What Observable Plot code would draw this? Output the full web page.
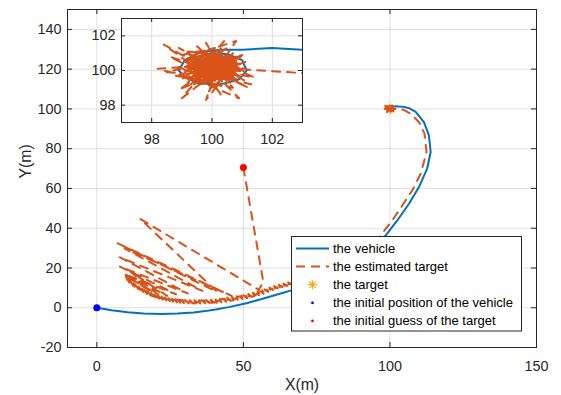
<!DOCTYPE html>
<html><head><meta charset="utf-8">
<script src="https://cdn.jsdelivr.net/npm/d3@7"></script>
<script src="https://cdn.jsdelivr.net/npm/@observablehq/plot@0.6"></script>
<style>
body{margin:0;background:#fff;}
#wrap{position:relative;width:561px;height:395px;font-family:"Liberation Sans",Arial,Helvetica,sans-serif;}
#wrap svg{position:absolute;overflow:visible;background:transparent;}
</style></head><body><div id="wrap"></div>
<script>
const xTicks=[0,50,100,150];
const yTicks=[-20,0,20,40,60,80,100,120,140];
const insetTicks=[98,100,102];
const legendLabels=["the vehicle","the estimated target","the target","the initial position of the vehicle","the initial guess of the target"];

const vehiclePath=[[0,0],[5,-1.3],[10.5,-2.3],[16,-2.9],[21.8,-3.1],[27.5,-2.9],[33,-2.4],[37,-1.7],[40.5,-0.9],[45,0.3],[51.4,2.4],[56,4.3],[62.7,7.2],[66.1,8.6],[72,12],[78,16],[84,21],[89,26],[94,31.5],[98.5,36.3],[102.5,43.9],[106.5,52.3],[109.9,60.7],[112.7,70],[113.9,78.3],[113.3,86.7],[111.6,93.4],[108.8,98.5],[106.5,100.4],[104.5,101.1],[103,101.2],[102,101.3],[101,101.2],[100.3,101.2],[99.6,101.05],[99.1,100.6],[98.9,100],[99.1,99.6],[99.5,99.3],[100,99.2],[100.4,99.25],[100.9,99.5],[101.15,100],[101,100.6],[100.5,100.95],[100,101],[99.5,100.8],[99.3,100.2]];

const estimateFan=[[50,70.5],[56.8,13],[55.3,9],[14.8,44.7],[41,8],[7.1,32.4],[46,6],[9.5,29.8],[36,8.5],[7.8,25.4],[31,7.2],[7.9,20.7],[27,6.8],[9.3,17],[24,6],[11.4,18.2],[21,6.5],[10.5,15.5],[18.5,8.2]];

const estimateBand=[[9.5,17.2],[10.5,13.8],[10.1,15.9],[11.1,12.6],[10.7,14.7],[11.7,11.9],[11.3,13.9],[12.3,11.2],[11.9,13.1],[12.9,10.6],[12.5,12.4],[13.5,10.0],[13.1,11.8],[14.1,9.4],[13.7,11.2],[14.7,8.9],[14.3,10.6],[15.3,8.4],[14.9,10.1],[15.9,7.9],[15.5,9.6],[16.5,7.4],[16.1,9.1],[17.1,7.0],[16.7,8.6],[17.7,6.6],[17.3,8.2],[18.3,6.2],[17.9,7.8],[18.9,5.8],[18.5,7.4],[19.5,5.5],[19.1,7.0],[20.1,5.2],[19.7,6.7],[20.7,4.9],[20.3,6.4],[21.3,4.6],[20.9,6.1],[21.9,4.3],[21.5,5.8],[22.5,4.1],[22.1,5.6],[23.1,3.9],[22.7,5.4],[23.7,3.7],[23.3,5.2],[24.3,3.5],[23.9,5.0],[24.9,3.3],[24.5,4.8],[25.5,3.1],[25.1,4.6],[26.1,3.0],[25.7,4.5],[26.7,2.9],[26.3,4.4],[27.3,2.7],[26.9,4.3],[27.9,2.6],[27.5,4.2],[28.5,2.5],[28.1,4.1],[29.1,2.4],[28.7,4.0],[29.7,2.3],[29.3,3.9],[30.5,2.3],[30.1,3.9],[31.3,2.2],[30.9,3.8],[32.1,2.2],[31.7,3.8],[32.9,2.1],[32.5,3.8],[33.7,2.1],[33.3,3.8],[34.5,2.1],[34.1,3.8],[35.3,2.1],[34.9,3.8],[36.1,2.2],[35.7,3.9],[36.9,2.2],[36.5,3.9],[37.7,2.2],[37.3,3.9],[38.5,2.3],[38.1,4.0],[39.3,2.3],[38.9,4.0],[40.1,2.4],[39.7,4.1],[40.9,2.5],[40.5,4.2],[41.7,2.6],[41.3,4.3],[42.5,2.7],[42.1,4.5],[43.3,2.9],[42.9,4.6],[44.1,3.0],[43.7,4.8],[44.9,3.2],[44.5,5.0],[45.7,3.4],[45.3,5.2],[46.5,3.6],[46.1,5.4],[47.3,3.8],[46.9,5.6],[48.1,4.0],[47.7,5.8],[48.9,4.2],[48.5,5.9],[49.7,4.4],[49.3,6.1],[50.5,4.6],[50.1,6.3],[51.3,4.8],[50.9,6.6],[52.1,5.1],[51.7,6.9],[52.9,5.4],[52.5,7.2],[53.7,5.7],[53.3,7.5],[54.5,6.0],[54.1,7.8],[55.3,6.3],[54.9,8.1],[56.1,6.6],[55.7,8.4],[56.9,7.0],[56.5,8.8],[57.7,7.4],[57.3,9.2],[58.5,7.9],[58.1,9.7],[59.3,8.4],[58.9,10.1],[60.1,8.9],[59.7,10.5],[60.9,9.3],[60.5,10.9],[61.7,9.7],[61.3,11.2],[62.5,10.0],[62.1,11.5],[63.3,10.3],[62.9,11.9],[64.1,10.7],[63.7,12.2],[64.9,11.0],[64.5,12.5],[65.7,11.3],[65.3,12.8],[66.5,11.6],[66.1,13.1],[67.3,12.0],[70,13],[75,15.5],[80,19],[85,23],[90,28],[93.5,31.8],[96.8,36.3],[100.8,43.9],[104.2,51.4],[107.6,59],[110.5,67.4],[112.5,78.3],[111.8,87.6],[109.9,93.4],[107,97.7],[104.5,99.6],[103,99.85],[101.2,100.05]];

const estimateClusterOuter=[[100.6,100.3],[99.4,99.8],[100.9,100.7],[98.9,100.2],[100.3,99.1],[99.7,101.2],[100.8,99.6],[99.2,100.6],[100.5,101.3],[99.0,99.5],[100.2,100.9],[101.1,99.9],[99.5,100.4],[98.4,101.5],[99.9,99.6],[100.7,101.0],[99.3,99.2],[100.0,100.5],[101.3,99.2],[99.6,99.9],[98.6,100.8],[100.4,99.7],[99.8,101.6],[100.6,99.3],[99.1,100.0],[100.9,100.4],[98.2,100.1],[99.7,99.4],[100.3,101.1],[99.0,98.4],[100.1,99.9],[100.8,101.7],[99.4,100.9],[100.5,99.9],[99.2,99.6],[101.0,100.9],[99.8,98.3],[100.2,100.3],[99.5,101.4],[100.7,99.0],[98.8,99.7],[100.0,99.3],[99.9,100.8],[101.4,99.6],[99.3,100.3],[100.4,100.6],[98.9,98.9],[100.6,100.1],[99.6,100.7],[100.9,98.4],[99.4,99.5],[100.1,101.3],[99.0,100.9],[100.8,99.8],[99.7,100.1],[100.3,98.6],[99.2,101.1],[100.5,100.8],[98.5,99.9],[100.0,99.7],[101.1,100.5],[99.6,99.1],[100.2,100.2],[99.1,100.4],[100.7,100.6],[99.8,99.5],[100.4,101.7],[99.5,99.8],[100.9,99.4],[98.9,101.3],[100.1,100.0],[99.3,99.9],[100.6,100.9],[99.9,98.8],[100.3,99.5],[99.4,100.6],[101.2,99.0],[99.8,100.4],[100.0,101.0],[99.2,99.3],[100.7,100.3],[99.6,100.2],[100.2,99.6],[99.9,100.1]];

const estimateClusterCore=[[99.5,100.2],[100.6,99.8],[99.2,100.7],[100.8,100.3],[99.7,99.4],[100.3,100.8],[99.1,99.9],[100.7,99.5],[99.9,100.7],[100.4,99.3],[99.3,100.4],[100.9,100.1],[99.6,99.6],[100.2,100.6],[99.4,99.2],[100.5,100.5],[99.8,100.9],[100.1,99.4],[99.2,100.1],[100.8,100.8],[99.7,100.5],[100.4,99.9],[99.5,99.4],[100.6,100.7],[99.9,99.5],[100.3,100.3],[99.3,100.8],[100.7,99.9],[99.6,100.4],[100.0,99.2],[99.4,100.0],[100.9,100.6],[99.8,99.7],[100.2,101.0],[99.1,100.5],[100.5,99.6],[99.7,100.8],[100.3,99.8],[99.5,99.9],[100.8,100.2],[99.9,100.3],[100.1,100.7],[99.3,99.6],[100.6,100.4],[99.6,101.0],[100.4,99.5],[99.2,100.3],[100.7,100.9],[99.8,99.9],[100.0,100.6],[99.4,100.6],[100.5,100.0],[99.7,99.3],[100.2,100.5],[99.5,100.7],[100.9,99.7],[99.9,100.0],[100.3,100.9],[99.1,100.2],[100.6,99.6],[99.6,100.3],[100.1,99.7],[99.4,99.8],[100.8,100.5],[99.8,100.6],[100.4,100.2],[99.3,100.1],[100.7,100.1],[99.7,99.8],[100.0,100.4],[99.5,100.5],[100.5,99.4],[99.9,100.9],[100.2,99.9],[99.2,99.5],[100.6,100.6],[99.8,100.2],[100.3,99.6],[99.4,100.4],[100.9,100.4],[99.6,99.7],[100.1,100.8],[99.5,100.1],[100.7,99.7],[99.9,100.5],[100.4,100.4],[99.3,99.9],[100.5,100.9],[99.7,100.0],[100.2,99.5],[99.6,100.6],[100.8,99.9],[99.8,100.3],[100.0,100.1]];

const targetPoint=[[100,100]];
const vehicleStart=[[0,0]];
const initialGuess=[[50,70.5]];

const estimatePath=estimateFan.concat(estimateBand,estimateClusterOuter,estimateClusterCore);

const BLUE="#0072BD", ORANGE="#D95319", YELLOW="#EDB120", AX="#262626", GRID="#dfdfdf";
const FONT='"Liberation Sans",Arial,Helvetica,sans-serif';
const asterisk={draw(ctx,size){const r=Math.sqrt(size/Math.PI);const d=r*Math.SQRT1_2;
 ctx.moveTo(-r,0);ctx.lineTo(r,0);ctx.moveTo(0,-r);ctx.lineTo(0,r);
 ctx.moveTo(-d,-d);ctx.lineTo(d,d);ctx.moveTo(-d,d);ctx.lineTo(d,-d);}};
const px=d=>d[0], py=d=>d[1];

const wrap=document.getElementById("wrap");

// main plot
const mL=67,mR=25,mT=9,mB=48,W=561,H=395;
const fw=W-mL-mR, fh=H-mT-mB;
const main=Plot.plot({
  width:W,height:H,marginLeft:mL,marginRight:mR,marginTop:mT,marginBottom:mB,
  x:{domain:[-10,150],axis:null},y:{domain:[-20,150],axis:null},
  style:{fontFamily:FONT,background:"transparent",overflow:"visible"},
  marks:[
    Plot.gridX(xTicks,{x:d=>d,stroke:GRID,strokeOpacity:1,strokeWidth:1}),
    Plot.gridY(yTicks,{y:d=>d,stroke:GRID,strokeOpacity:1,strokeWidth:1}),
    Plot.line(vehiclePath,{x:px,y:py,stroke:BLUE,strokeWidth:2,clip:true}),
    Plot.dot(targetPoint,{x:px,y:py,symbol:asterisk,r:5.5,stroke:YELLOW,fill:"none",strokeWidth:1.2}),
    Plot.line(estimatePath,{x:px,y:py,stroke:ORANGE,strokeWidth:2,strokeDasharray:"8,7",clip:true}),
    Plot.dot(vehicleStart,{x:px,y:py,r:3.5,fill:"#0000FF",stroke:"none"}),
    Plot.dot(initialGuess,{x:px,y:py,r:3.5,fill:"#FF0000",stroke:"none"}),
    Plot.tickX(xTicks,{x:d=>d,stroke:AX,insetTop:fh-5}),
    Plot.tickX(xTicks,{x:d=>d,stroke:AX,insetBottom:fh-5}),
    Plot.tickY(yTicks,{y:d=>d,stroke:AX,insetRight:fw-5}),
    Plot.tickY(yTicks,{y:d=>d,stroke:AX,insetLeft:fw-5}),
    Plot.frame({stroke:AX,strokeWidth:1}),
    Plot.text(xTicks,{x:d=>d,text:d=>String(d),frameAnchor:"bottom",lineAnchor:"top",dy:13,fontSize:14.4,fill:AX}),
    Plot.text(yTicks,{y:d=>d,text:d=>String(d),frameAnchor:"left",textAnchor:"end",dx:-6,fontSize:14.4,fill:AX}),
    Plot.text(["X(m)"],{text:d=>d,frameAnchor:"bottom",lineAnchor:"top",dy:31,fontSize:15.8,fill:AX}),
    Plot.text(["Y(m)"],{text:d=>d,frameAnchor:"left",rotate:-90,dx:-42,fontSize:15.8,fill:AX})
  ]
});
main.style.left="0px";main.style.top="0px";
wrap.appendChild(main);

// inset
const iL=121,iR=302,iT=18,iB=122;
const ifw=iR-iL, ifh=iB-iT;
const im={l:45,r:5,t:5,b:30};
const inset=Plot.plot({
  width:ifw+im.l+im.r,height:ifh+im.t+im.b,marginLeft:im.l,marginRight:im.r,marginTop:im.t,marginBottom:im.b,
  x:{domain:[97,103],axis:null},y:{domain:[97,103],axis:null},
  style:{fontFamily:FONT,background:"transparent",overflow:"visible"},
  marks:[
    Plot.frame({fill:"white",stroke:"none"}),
    Plot.gridX(insetTicks,{x:d=>d,stroke:GRID,strokeOpacity:1,strokeWidth:1}),
    Plot.gridY(insetTicks,{y:d=>d,stroke:GRID,strokeOpacity:1,strokeWidth:1}),
    Plot.line(vehiclePath,{x:px,y:py,stroke:BLUE,strokeWidth:2,clip:true}),
    Plot.dot(targetPoint,{x:px,y:py,symbol:asterisk,r:5.5,stroke:YELLOW,fill:"none",strokeWidth:1.2}),
    Plot.line(estimatePath,{x:px,y:py,stroke:ORANGE,strokeWidth:2,strokeDasharray:"8,7",clip:true}),
    Plot.tickX(insetTicks,{x:d=>d,stroke:AX,insetTop:ifh-4}),
    Plot.tickX(insetTicks,{x:d=>d,stroke:AX,insetBottom:ifh-4}),
    Plot.tickY(insetTicks,{y:d=>d,stroke:AX,insetRight:ifw-4}),
    Plot.tickY(insetTicks,{y:d=>d,stroke:AX,insetLeft:ifw-4}),
    Plot.frame({stroke:AX,strokeWidth:1}),
    Plot.text(insetTicks,{x:d=>d,text:d=>String(d),frameAnchor:"bottom",lineAnchor:"top",dy:11,fontSize:14.4,fill:AX}),
    Plot.text(insetTicks,{y:d=>d,text:d=>String(d),frameAnchor:"left",textAnchor:"end",dx:-6,fontSize:14.4,fill:AX})
  ]
});
inset.style.left=(iL-im.l)+"px";inset.style.top=(iT-im.t)+"px";
wrap.appendChild(inset);

// legend
const lg=d3.create("svg").attr("width",W).attr("height",H).style("left","0px").style("top","0px");
const LX=291.5,LY=236.5,LW=230,LH=94.5;
lg.append("rect").attr("x",LX).attr("y",LY).attr("width",LW).attr("height",LH).attr("fill","white").attr("stroke",AX).attr("stroke-width",1);
const rowY=i=>248.5+18.1*i;
legendLabels.forEach((t,i)=>{
  lg.append("text").attr("x",333).attr("y",rowY(i)).attr("dy","0.35em").attr("font-size",13).attr("font-family",FONT).attr("fill","#000").text(t);
});
lg.append("line").attr("x1",296).attr("x2",329).attr("y1",rowY(0)).attr("y2",rowY(0)).attr("stroke",BLUE).attr("stroke-width",2);
lg.append("line").attr("x1",296).attr("x2",329).attr("y1",rowY(1)).attr("y2",rowY(1)).attr("stroke",ORANGE).attr("stroke-width",2).attr("stroke-dasharray","9,6");
{const cx=312.5,cy=rowY(2),r=4.5,d=r*Math.SQRT1_2;
 lg.append("path").attr("d",`M${cx-r},${cy}H${cx+r}M${cx},${cy-r}V${cy+r}M${cx-d},${cy-d}L${cx+d},${cy+d}M${cx-d},${cy+d}L${cx+d},${cy-d}`).attr("stroke",YELLOW).attr("stroke-width",1.2).attr("fill","none");}
lg.append("circle").attr("cx",312.5).attr("cy",rowY(3)).attr("r",1.4).attr("fill","#0000FF");
lg.append("circle").attr("cx",312.5).attr("cy",rowY(4)).attr("r",1.4).attr("fill","#FF0000");
wrap.appendChild(lg.node());
</script></body></html>
